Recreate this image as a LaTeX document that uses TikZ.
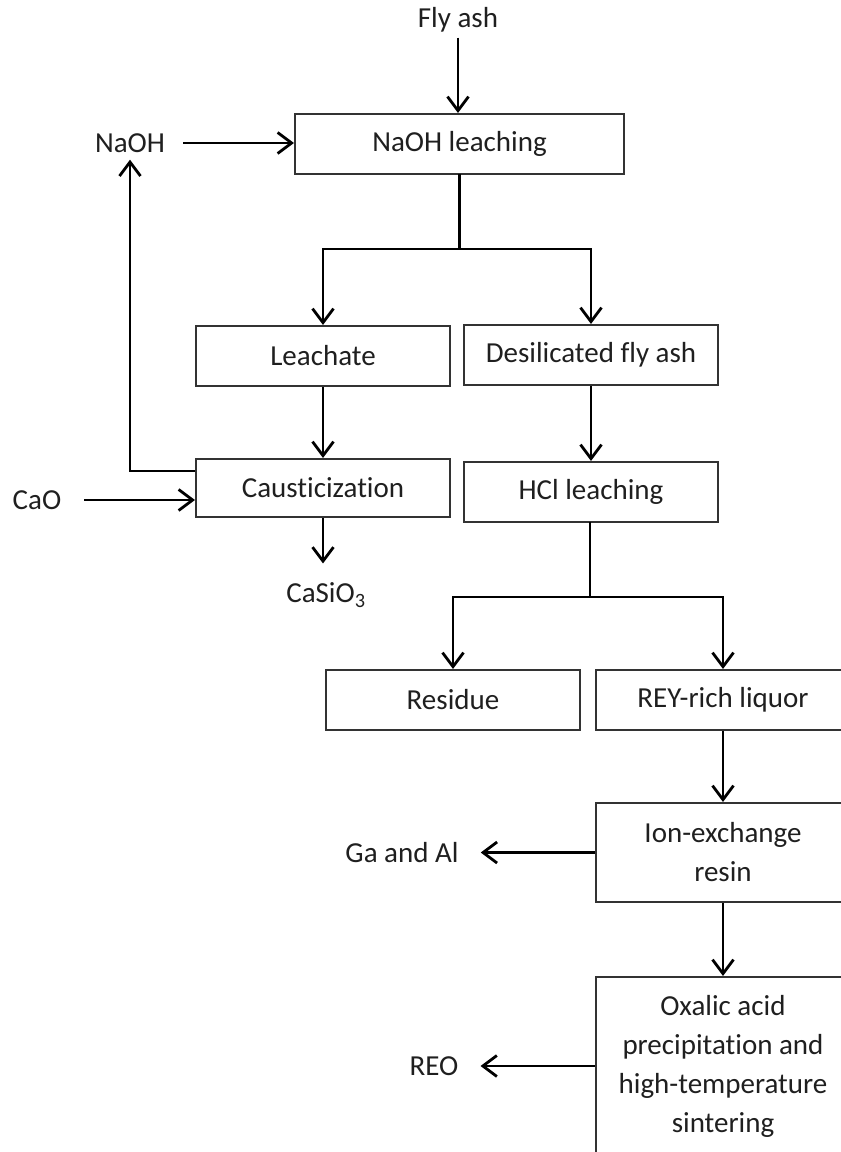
\documentclass[tikz,border=0pt]{standalone}
\usepackage{fontspec}
\setmainfont[Ligatures=NoCommon]{Carlito}
\usetikzlibrary{arrows.meta}
\begin{document}
\begin{tikzpicture}[x=1pt,y=-1pt,
  box/.style={draw=black!80, line width=2.1pt, minimum width=254pt, minimum height=60pt, inner sep=0pt, align=center, font=\fontsize{29}{39}\selectfont, text=black!88},
  lbl/.style={inner sep=0pt, font=\fontsize{29}{39}\selectfont, text=black!88},
  ln/.style={line width=2.8pt, line cap=rect},
  arr/.style={line width=2.8pt, -{Straight Barb[length=14pt,width=21pt]}}]
\useasboundingbox (0,0) rectangle (841,1152);
\clip (0,0) rectangle (841,1152);

% process boxes
\node[box, minimum width=329pt] (leach) at (459.5,144) {NaOH leaching};
\node[box] (leachate) at (323,356) {Leachate};
\node[box] (desil) at (591,355) {Desilicated fly ash};
\node[box, minimum height=58pt] (caust) at (323,488) {Causticization};
\node[box] (hcl) at (591,492) {HCl leaching};
\node[box] (residue) at (453,700) {Residue};
\node[box] (rey) at (723,700) {REY-rich liquor};
\node[box, minimum height=99pt] (ion) at (723,852.5) {Ion-exchange\\resin};
\node[box, minimum height=178pt] (oxalic) at (723,1066) {Oxalic acid\\precipitation and\\high-temperature\\sintering};

% labels
\node[lbl] (fly) at (458,20) {Fly ash};
\node[lbl] (naoh) at (130,143) {NaOH};
\node[lbl] (cao) at (37,500) {CaO};
\node[lbl] (casio) at (326,595) {CaSiO\textsubscript{3}};
\node[lbl] (ga) at (402,852.5) {Ga and Al};
\node[lbl] (reo) at (434,1066) {REO};

% junctions
\coordinate (s1) at (459.5,249);
\coordinate (s2) at (590,597);

% connectors
\draw[arr, shorten <=5pt] (fly) -- (fly |- leach.north);
\draw[arr, shorten <=18pt] (naoh.east) -- (naoh.east -| leach.west);
\draw[ln] (leach.south) -- (s1);
\draw[ln] (leachate.north |- s1) -- (desil.north |- s1);
\draw[arr] (s1) -| (leachate.north);
\draw[arr] (s1) -| (desil.north);
\draw[arr] (leachate.south) -- (caust.north);
\draw[arr] (desil.south) -- (hcl.north);
\draw[arr, shorten >=7pt] ([yshift=17pt]caust.west) -| (naoh.south);
\draw[arr, shorten <=23pt] (cao.east) -- (cao.east -| caust.west);
\draw[arr, shorten >=19pt] (caust.south) -- (caust.south |- casio.north);
\draw[ln] (hcl.south -| s2) -- (s2);
\draw[ln] (residue.north |- s2) -- (rey.north |- s2);
\draw[arr] (s2) -| (residue.north);
\draw[arr] (s2) -| (rey.north);
\draw[arr] (rey.south) -- (ion.north);
\draw[arr] (ion.south) -- (oxalic.north);
\draw[arr, shorten >=22pt] (ion.west) -- (ga.east);
\draw[arr, shorten >=22pt] (oxalic.west) -- (reo.east);
\end{tikzpicture}
\end{document}
